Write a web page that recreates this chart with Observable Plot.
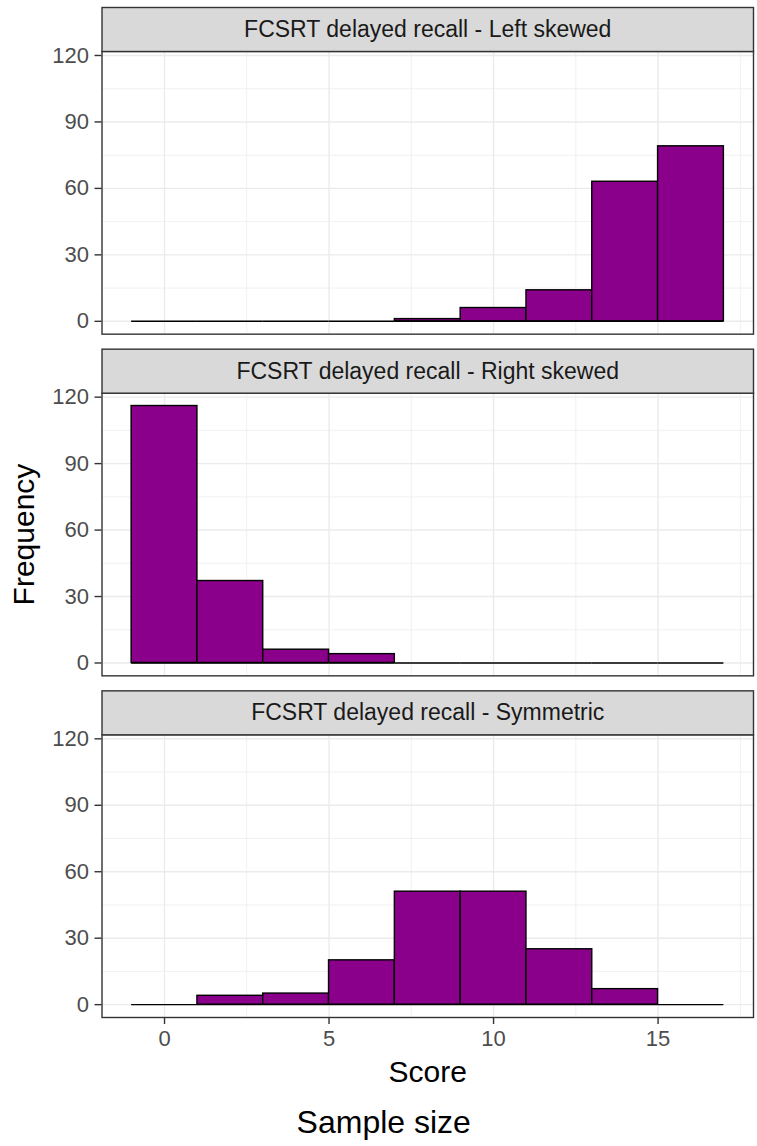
<!DOCTYPE html>
<html><head><meta charset="utf-8">
<script src="https://cdn.jsdelivr.net/npm/d3@7"></script>
<script src="https://cdn.jsdelivr.net/npm/@observablehq/plot@0.6"></script>
<style>html,body{margin:0;padding:0;background:#fff}#chart svg{display:block}</style>
</head><body><div id="chart"></div>
<script>
const panels = [
  "FCSRT delayed recall - Left skewed",
  "FCSRT delayed recall - Right skewed",
  "FCSRT delayed recall - Symmetric"
];
const binLo = [-1, 1, 3, 5, 7, 9, 11, 13, 15];
const binHi = [1, 3, 5, 7, 9, 11, 13, 15, 17];
const leftSkewed  = [0, 0, 0, 0, 1, 6, 14, 63, 79];
const rightSkewed = [116, 37, 6, 4, 0, 0, 0, 0, 0];
const symmetric   = [0, 4, 5, 20, 51, 51, 25, 7, 0];
const yTicks = [0, 30, 60, 90, 120];
const yMinor = [15, 45, 75, 105];
const xTicks = [0, 5, 10, 15];
const xMinor = [2.5, 7.5, 12.5, 17.5];
const xTitle = "Score";
const yTitle = "Frequency";
const caption = "Sample size";

const series = [leftSkewed, rightSkewed, symmetric];
const rows = [];
panels.forEach((p, i) => series[i].forEach((c, j) => rows.push({panel: p, lo: binLo[j], hi: binHi[j], count: c})));
const strips = panels.map(p => ({panel: p, label: p}));

const W = 757, H = 1146, mL = 101.5, mR = 4, mT = 51, mB = 129, gap = 59, stripH = 44;
const bandH = (H - mT - mB - 2 * gap) / 3;
const padInner = gap / (bandH + gap);

const grey20 = "#333333", grey30 = "#4D4D4D", grey92 = "#EBEBEB", grey85 = "#D9D9D9";

const chart = Plot.plot({
  width: W, height: H,
  marginLeft: mL, marginRight: mR, marginTop: mT, marginBottom: mB,
  style: {fontFamily: "'Liberation Sans', Arial, sans-serif", background: "#fff", overflow: "visible"},
  x: {domain: [-1.9, 17.9]},
  y: {domain: [-5.8, 121.8]},
  fy: {domain: panels, axis: null, paddingInner: padInner, paddingOuter: 0, round: false},
  marks: [
    Plot.gridY(yMinor, {stroke: grey92, strokeOpacity: 1, strokeWidth: 0.7}),
    Plot.gridX(xMinor, {stroke: grey92, strokeOpacity: 1, strokeWidth: 0.7}),
    Plot.gridY(yTicks, {stroke: grey92, strokeOpacity: 1, strokeWidth: 1.4}),
    Plot.gridX(xTicks, {stroke: grey92, strokeOpacity: 1, strokeWidth: 1.4}),
    Plot.ruleY(rows, {fy: "panel", y: 0, x1: "lo", x2: "hi", stroke: "#000", strokeWidth: 1.4}),
    Plot.rect(rows, {fy: "panel", x1: "lo", x2: "hi", y1: 0, y2: "count", fill: "#8B008B", stroke: "#000", strokeWidth: 1.4}),
    Plot.frame({stroke: grey20, strokeWidth: 1.4}),
    Plot.frame({fill: grey85, stroke: grey20, strokeWidth: 1.4, insetTop: -stripH, insetBottom: bandH}),
    Plot.text(strips, {fy: "panel", text: "label", frameAnchor: "top", lineAnchor: "middle", dy: -stripH / 2, fontSize: 23, fill: "#1A1A1A"}),
    Plot.axisY(yTicks, {tickSize: 7, tickPadding: 6, fontSize: 22, label: null, stroke: grey20, fill: grey30, strokeWidth: 1.4}),
    Plot.axisX(xTicks, {tickSize: 7, tickPadding: 6, fontSize: 22, label: null, stroke: grey20, fill: grey30, strokeWidth: 1.4}),
    Plot.text([{panel: panels[1], label: yTitle}], {fy: "panel", text: "label", frameAnchor: "left", textAnchor: "middle", lineAnchor: "middle", rotate: -90, dx: -78, fontSize: 30, fill: "#000"}),
    Plot.text([{panel: panels[2], label: xTitle}], {fy: "panel", text: "label", frameAnchor: "bottom", textAnchor: "middle", lineAnchor: "bottom", dy: 64, fontSize: 30, fill: "#000"}),
    Plot.text([{panel: panels[2], label: caption}], {fy: "panel", text: "label", frameAnchor: "bottom", textAnchor: "middle", lineAnchor: "bottom", dy: 115, dx: -44, fontSize: 32, fill: "#000"})
  ]
});
document.getElementById("chart").appendChild(chart);
</script>
</body></html>
